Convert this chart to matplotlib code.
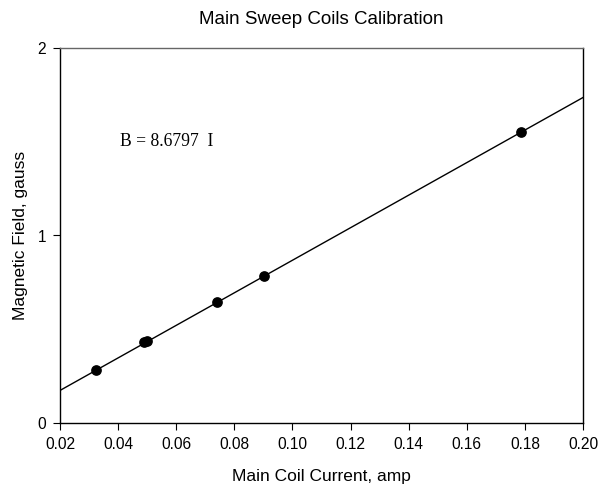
import numpy as np
import matplotlib
matplotlib.use("Agg")
import matplotlib.pyplot as plt

plt.rcParams['font.family'] = ['Liberation Sans', 'DejaVu Sans']

# measured calibration points
current = [0.0324, 0.0490, 0.0500, 0.0739, 0.0902, 0.1786]
field = [0.283, 0.432, 0.436, 0.647, 0.786, 1.550]
slope = 8.6797
fit_x = [0.02, 0.20]
xticks = [0.02, 0.04, 0.06, 0.08, 0.10, 0.12, 0.14, 0.16, 0.18, 0.20]
yticks = [0, 1, 2]

fig = plt.figure(figsize=(6, 4.86), dpi=100)
ax = fig.add_axes([60/600, 1 - 423/486, (583-60)/600, (423-48)/486])

fx = np.array(fit_x)
ax.plot(fx, slope*fx, color='black', lw=1.0)
ax.plot(current, field, 'o', color='black', ms=6.7)

ax.set_xlim(0.02, 0.20)
ax.set_ylim(0, 2)
ax.set_xticks(xticks)
ax.set_xticklabels(['%.2f' % t for t in xticks])
ax.set_yticks(yticks)
ax.tick_params(direction='out', length=5, width=0.8, labelsize=11.2, pad=5)
ax.spines['top'].set_color('#666666')
for s in ax.spines.values():
    s.set_linewidth(1.0)

ax.text(0.0407, 1.5, 'B = 8.6797  I', family='Liberation Serif', fontsize=12.7, va='center')

ax.set_title('Main Sweep Coils Calibration', fontsize=13.5, pad=17)
ax.set_xlabel('Main Coil Current, amp', fontsize=12.5, labelpad=12)
ax.set_ylabel('Magnetic Field, gauss', fontsize=12.5, labelpad=7)

fig.savefig('out.png', dpi=100)
